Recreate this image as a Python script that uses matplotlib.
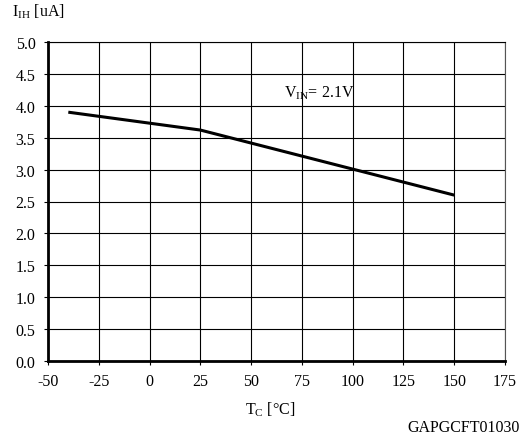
import matplotlib
matplotlib.use("Agg")
import matplotlib.pyplot as plt

# data
temp_c = [-40, 25, 150]
i_ih = [3.9, 3.62, 2.6]
x_ticks = [-50, -25, 0, 25, 50, 75, 100, 125, 150, 175]
y_ticks = [0.0, 0.5, 1.0, 1.5, 2.0, 2.5, 3.0, 3.5, 4.0, 4.5, 5.0]

plt.rcParams['font.family'] = ['Liberation Serif', 'DejaVu Serif']
fs = 11.5

fig = plt.figure(figsize=(5.28, 4.39), dpi=100)
ax = fig.add_axes([48 / 528, 1 - 362 / 439, 457 / 528, 319 / 439])

ax.plot(temp_c, i_ih, color='black', linewidth=2.2, solid_capstyle='butt')

ax.set_xlim(-50, 175)
ax.set_ylim(0, 5)
ax.set_xticks(x_ticks)
ax.set_yticks(y_ticks)
ax.set_xticklabels([str(t) for t in x_ticks])
ax.set_yticklabels([f"{t:.1f}" for t in y_ticks])
ax.grid(True, color='black', linewidth=0.8)
ax.tick_params(direction='out', length=3, width=0.8, labelsize=fs, pad=6)

for side in ['left', 'bottom']:
    ax.spines[side].set_linewidth(2.0)
for side in ['top', 'right']:
    ax.spines[side].set_linewidth(0.8)
ax.spines['right'].set_color('#555555')

ax.text(66, 4.15, r'V$_{\mathregular{IN}}$= 2.1V', fontsize=fs)

fig.text(12 / 528, 1 - 12 / 439, r'I$_{\mathregular{IH}}$ [uA]', fontsize=fs,
         va='center', ha='left')
fig.text(270 / 528, 1 - 410 / 439, r'T$_{\mathregular{C}}$ [°C]', fontsize=fs,
         va='center', ha='center')
fig.text(520 / 528, 1 - 428 / 439, 'GAPGCFT01030', fontsize=fs,
         va='center', ha='right')

fig.savefig('out.png', dpi=100)
